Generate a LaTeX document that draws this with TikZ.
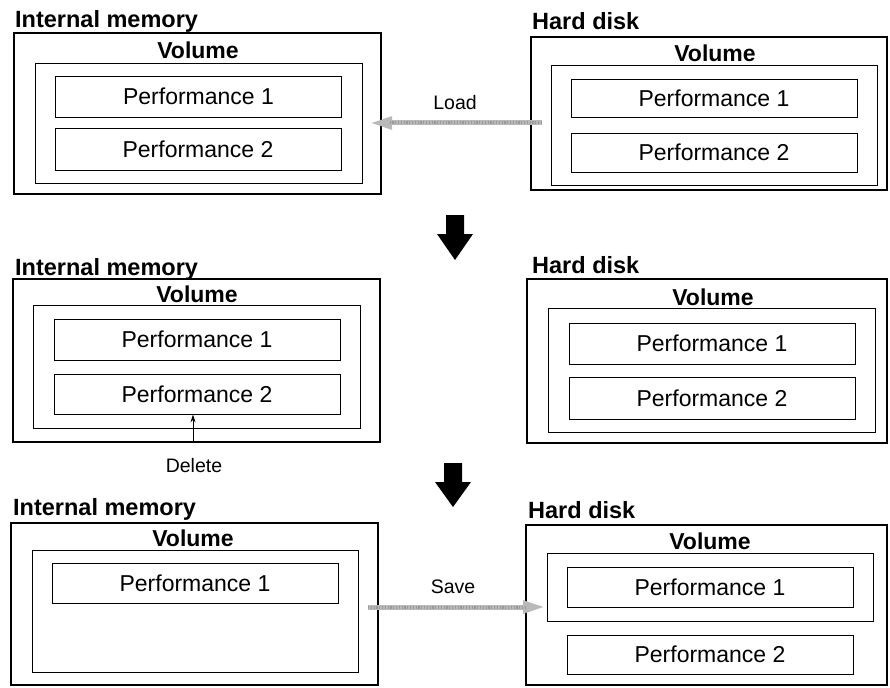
\documentclass[tikz,border=0pt]{standalone}
\usepackage{fontspec}
\setmainfont{Liberation Sans}
\usetikzlibrary{arrows.meta}
\begin{document}
\begin{tikzpicture}[x=1pt,y=-1pt,
  outerbox/.style={draw, line width=2.2pt, inner sep=0pt},
  volbox/.style={draw, line width=0.8pt, inner sep=0pt},
  perfbox/.style={draw, line width=0.9pt, inner sep=0pt, minimum width=286pt, font=\fontsize{23}{27}\selectfont},
  boldlabel/.style={anchor=base west, inner sep=0pt, font=\fontsize{23.5}{28}\selectfont\bfseries},
  voltext/.style={anchor=base, inner sep=0pt, font=\fontsize{23}{27}\selectfont\bfseries},
  smalltext/.style={anchor=base, inner sep=0pt, font=\fontsize{19.5}{23}\selectfont},
  halfarrow/.style={line width=5pt, gray!55, -{Triangle[length=22pt,width=12pt]}},
  halfdots/.style={line width=3pt, gray!80, dash pattern=on 1.2pt off 1.6pt, shorten >=20pt},
  thinarrow/.style={line width=0.8pt, -{Stealth[length=8pt,width=5pt]}},
  bigdown/.style={fill=black},
]
\useasboundingbox (0,0) rectangle (890,687);
\fill[white] (0,0) rectangle (890,687);

% ---------- Row 1 ----------
\node[boldlabel] (im1lab) at (15,28) {Internal memory};
\node[outerbox, minimum width=367pt, minimum height=161pt] (im1) at (197.5,113.5) {};
\node[volbox, minimum width=327pt, minimum height=120pt] (iv1) at (198.5,123) {};
\node[voltext] (iv1t) at (198,59) {Volume};
\node[perfbox, minimum height=41pt] (ip11) at (198.5,96.5) {Performance 1};
\node[perfbox, minimum height=42pt] (ip12) at (198,149) {Performance 2};

\node[boldlabel] (hd1lab) at (532,30) {Hard disk};
\node[outerbox, minimum width=356pt, minimum height=153pt] (hd1) at (709,113.5) {};
\node[volbox, minimum width=326pt, minimum height=120pt] (hv1) at (714,125) {};
\node[voltext] (hv1t) at (715,62) {Volume};
\node[perfbox, minimum height=38pt] (hp11) at (714,98) {Performance 1};
\node[perfbox, minimum height=39pt] (hp12) at (714,152.5) {Performance 2};

\coordinate (loadS) at (542,123);
\coordinate (loadE) at (370,123);
\node[smalltext] (loadt) at (455,110) {Load};
\draw[halfarrow] (loadS) -- (loadE);
\draw[halfdots] (loadS) -- (loadE);

% big down arrow 1
\fill[bigdown] (446,215) -- (464,215) -- (464,234) -- (473,234) -- (455,260) -- (437,234) -- (446,234) -- cycle;

% ---------- Row 2 ----------
\node[boldlabel] (im2lab) at (15,275) {Internal memory};
\node[outerbox, minimum width=367pt, minimum height=163pt] (im2) at (196.5,360.5) {};
\node[volbox, minimum width=327pt, minimum height=123pt] (iv2) at (196.5,366.5) {};
\node[voltext] (iv2t) at (197,302) {Volume};
\node[perfbox, minimum height=41pt] (ip21) at (197,339.5) {Performance 1};
\node[perfbox, minimum height=40pt] (ip22) at (197,394) {Performance 2};

\node[smalltext] (delt) at (194,472) {Delete};
\coordinate (delS) at (193,441);
\draw[thinarrow] (delS) -- (delS |- ip22.south);

\node[boldlabel] (hd2lab) at (532,273) {Hard disk};
\node[outerbox, minimum width=360pt, minimum height=164pt] (hd2) at (707,361) {};
\node[volbox, minimum width=327pt, minimum height=124pt] (hv2) at (711.5,370) {};
\node[voltext] (hv2t) at (713,305) {Volume};
\node[perfbox, minimum height=41pt] (hp21) at (712,343.5) {Performance 1};
\node[perfbox, minimum height=42pt] (hp22) at (712,398) {Performance 2};

% big down arrow 2
\fill[bigdown] (444,463) -- (462,463) -- (462,482) -- (471,482) -- (453,507) -- (435,482) -- (444,482) -- cycle;

% ---------- Row 3 ----------
\node[boldlabel] (im3lab) at (13,515) {Internal memory};
\node[outerbox, minimum width=367pt, minimum height=162pt] (im3) at (194.5,604) {};
\node[volbox, minimum width=326pt, minimum height=122pt] (iv3) at (195,611) {};
\node[voltext] (iv3t) at (193,546) {Volume};
\node[perfbox, minimum height=40pt] (ip31) at (195,583) {Performance 1};

\node[boldlabel] (hd3lab) at (528,518) {Hard disk};
\node[outerbox, minimum width=361pt, minimum height=160pt] (hd3) at (706.5,605) {};
\node[volbox, minimum width=326pt, minimum height=68pt] (hv3) at (710,587) {};
\node[voltext] (hv3t) at (710,549) {Volume};
\node[perfbox, minimum height=40pt] (hp31) at (710,587) {Performance 1};
\node[perfbox, minimum height=39pt] (hp32) at (710,654.5) {Performance 2};

\coordinate (saveS) at (368,607);
\coordinate (saveE) at (545,607);
\node[smalltext] (savet) at (453,593) {Save};
\draw[halfarrow] (saveS) -- (saveE);
\draw[halfdots] (saveS) -- (saveE);
\end{tikzpicture}
\end{document}
